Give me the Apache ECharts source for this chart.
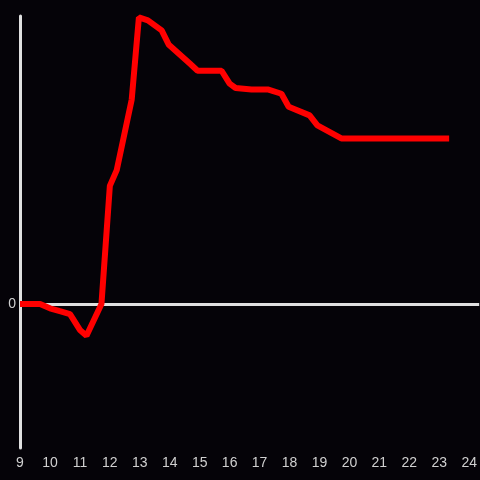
<!DOCTYPE html>
<html>
<head>
<meta charset="utf-8">
<script src="https://cdn.jsdelivr.net/npm/echarts@6/dist/echarts.min.js"></script>
<style>
html,body{margin:0;padding:0;background:#050308;}
#c{width:480px;height:480px;}
</style>
</head>
<body>
<div id="c"></div>
<script>
var hours = [9.0, 9.33, 9.67, 10.0, 10.33, 10.67, 11.0, 11.22, 11.72, 12.0, 12.23, 12.73, 12.97, 13.27, 13.73, 13.97, 14.67, 14.93, 15.73, 16.0, 16.2, 16.73, 17.27, 17.73, 17.97, 18.67, 18.93, 19.73, 23.33];
var values = [0, 0, 0, -0.03, -0.05, -0.07, -0.18, -0.22, 0, 0.82, 0.93, 1.42, 1.99, 1.97, 1.90, 1.80, 1.67, 1.62, 1.62, 1.53, 1.50, 1.49, 1.49, 1.46, 1.37, 1.31, 1.24, 1.15, 1.15];
var xTicks = [9, 10, 11, 12, 13, 14, 15, 16, 17, 18, 19, 20, 21, 22, 23, 24];

var data = hours.map(function (h, i) { return [h, values[i]]; });
var chart = echarts.init(document.getElementById('c'));
chart.setOption({
  backgroundColor: '#050308',
  animation: false,
  grid: { left: 20, right: 0, top: 16, bottom: 32 },
  xAxis: {
    type: 'value', min: 9, max: 24.333, interval: 1,
    axisLine: { show: false }, axisTick: { show: false }, splitLine: { show: false },
    axisLabel: {
      color: '#d0d0d0', fontSize: 14, fontFamily: 'Liberation Sans', margin: 8,
      showMaxLabel: false,
      formatter: function (v) { return xTicks.indexOf(v) >= 0 ? String(v) : ''; }
    }
  },
  yAxis: {
    type: 'value', min: -1, max: 2, interval: 1,
    axisLine: { show: true, lineStyle: { color: '#e0e0e0', width: 3 } },
    axisTick: { show: false },
    splitLine: { show: true, lineStyle: { color: ['rgba(0,0,0,0)', '#e0e0e0', 'rgba(0,0,0,0)', 'rgba(0,0,0,0)'], width: 3 } },
    axisLabel: {
      color: '#d0d0d0', fontSize: 14, fontFamily: 'Liberation Sans', margin: 4,
      formatter: function (v) { return v === 0 ? '0' : ''; }
    }
  },
  series: [{
    type: 'line', data: data, showSymbol: false, clip: false,
    lineStyle: { color: '#ff0000', width: 6, cap: 'butt' }
  }]
});
</script>
</body>
</html>
